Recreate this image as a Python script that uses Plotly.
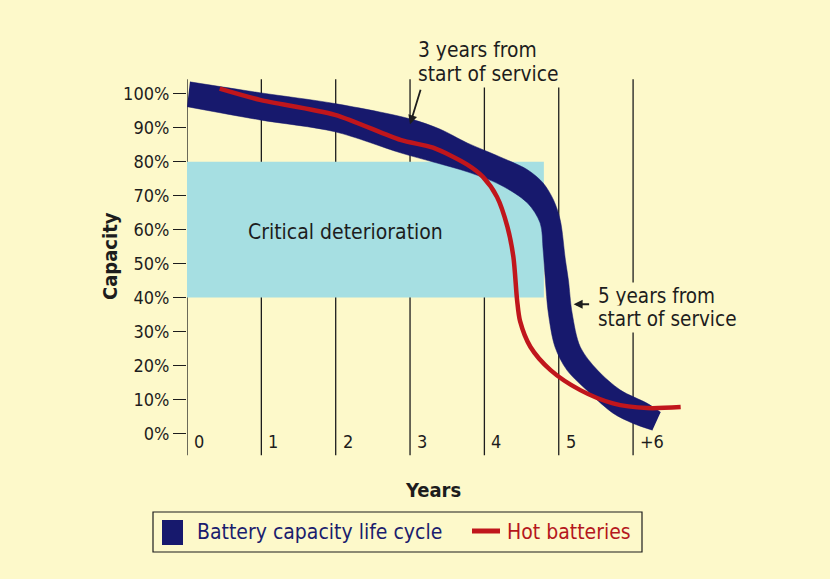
import plotly.graph_objects as go

# ---------------- data ----------------
year_ticks = [0, 1, 2, 3, 4, 5, 6]
year_labels = ["0", "1", "2", "3", "4", "5", "+6"]
pct_ticks = [0, 10, 20, 30, 40, 50, 60, 70, 80, 90, 100]
pct_labels = ["0%", "10%", "20%", "30%", "40%", "50%", "60%", "70%", "80%", "90%", "100%"]
series_names = ["Battery capacity life cycle", "Hot batteries"]

# Battery capacity life cycle band: upper and lower edges (years, % capacity)
band_upper_years = [0.04, 0.98, 1.99, 3.00, 3.40, 3.77, 4.21, 4.58, 4.79, 4.93, 5.02, 5.09, 5.13, 5.18, 5.29, 5.52, 5.83, 6.19, 6.37]
band_upper_pct = [103.5, 100.3, 97.1, 92.6, 89.6, 85.5, 81.4, 77.6, 73.7, 68.7, 62.8, 51.0, 45.1, 35.4, 25.4, 18.6, 12.7, 8.8, 6.2]
band_lower_years = [0.00, 0.98, 1.99, 2.87, 3.31, 3.77, 4.21, 4.58, 4.75, 4.79, 4.82, 4.86, 4.95, 5.11, 5.42, 5.73, 6.00, 6.26]
band_lower_pct = [96.2, 92.3, 88.8, 82.6, 79.9, 77.0, 73.2, 67.8, 61.9, 54.0, 45.1, 35.4, 25.4, 18.6, 11.8, 5.9, 2.9, 0.9]

# Hot batteries curve
hot_years = [0.44, 0.98, 1.99, 2.87, 3.31, 3.77, 3.98, 4.17, 4.31, 4.39, 4.44, 4.48, 4.62, 4.89, 5.29, 5.73, 6.19, 6.64]
hot_pct = [101.5, 98.2, 93.8, 86.4, 84.1, 79.1, 75.5, 69.6, 60.8, 51.9, 39.2, 33.0, 25.4, 18.6, 12.7, 8.8, 7.4, 7.7]

# Critical deterioration zone
critical_low, critical_high = 40, 80
critical_end_year = 4.8

# ---------------- style ----------------
BG = "#fdf9ca"
NAVY = "#17196d"
NAVY_TXT = "#1b1d6e"
RED = "#c0161c"
RED_TXT = "#b5171c"
CYAN = "#a6dfe2"
INK = "#1d1d1d"
FONT = "Liberation Sans Narrow, DejaVu Sans Condensed, Arial Narrow, Roboto, sans-serif"

W, H = 830, 579
ML, MR, MT, MB = 187, 130, 53, 122
PW, PH = W - ML - MR, H - MT - MB

def px(x):
    return (x - ML) / PW

def py(y):
    return (H - MB - y) / PH

Y_MIN, Y_MAX = -7, 112
LINE_BOTTOM, LINE_TOP = -6.5, 104.3

fig = go.Figure()

# band: upper edge, then lower edge filled to it
fig.add_trace(go.Scatter(
    x=band_upper_years, y=band_upper_pct, mode="lines",
    line=dict(color=NAVY, width=0.5, shape="spline", smoothing=0.9),
    name=series_names[0], hoverinfo="skip", showlegend=False,
))
fig.add_trace(go.Scatter(
    x=band_lower_years, y=band_lower_pct, mode="lines", fill="tonexty",
    fillcolor=NAVY, line=dict(color=NAVY, width=0.5, shape="spline", smoothing=0.9),
    name=series_names[0], hoverinfo="skip", showlegend=False,
))
fig.add_trace(go.Scatter(
    x=hot_years, y=hot_pct, mode="lines",
    line=dict(color=RED, width=4.5, shape="spline", smoothing=0.8),
    name=series_names[1], hoverinfo="skip", showlegend=False,
))

shapes = []
for yr in year_ticks:
    shapes.append(dict(type="line", xref="x", yref="y", x0=yr, x1=yr,
                       y0=LINE_BOTTOM, y1=LINE_TOP, line=dict(color=INK, width=1.3),
                       layer="below"))
shapes.append(dict(type="rect", xref="x", yref="y", x0=year_ticks[0], x1=critical_end_year,
                   y0=critical_low, y1=critical_high, fillcolor=CYAN,
                   line=dict(width=0), layer="below"))

# manual legend (box, swatch, line)
shapes += [
    dict(type="rect", xref="paper", yref="paper", x0=px(153), x1=px(642), y0=py(552), y1=py(512),
         line=dict(color=INK, width=1.2), fillcolor="rgba(0,0,0,0)", layer="above"),
    dict(type="rect", xref="paper", yref="paper", x0=px(162), x1=px(183), y0=py(545), y1=py(520),
         line=dict(width=0), fillcolor=NAVY, layer="above"),
    dict(type="line", xref="paper", yref="paper", x0=px(472), x1=px(500), y0=py(531), y1=py(531),
         line=dict(color=RED, width=5), layer="above"),
]

annotations = []
for yr, lab in zip(year_ticks, year_labels):
    annotations.append(dict(x=yr, y=-2.4, xref="x", yref="y", text=lab, showarrow=False,
                            xanchor="left", yanchor="middle", xshift=5,
                            font=dict(family=FONT, size=18, color=INK)))

def txt(x, y, text, size=19, color=INK, xanchor="left", **kw):
    d = dict(x=px(x), y=py(y), xref="paper", yref="paper", text=text, showarrow=False,
             xanchor=xanchor, yanchor="middle", font=dict(family=FONT, size=size, color=color))
    d.update(kw)
    return d

annotations += [
    txt(345, 232, "Critical deterioration", size=21, xanchor="center"),
    txt(433, 490, "<b>Years</b>", size=20, xanchor="center"),
    txt(110, 256, "<b>Capacity</b>", size=20, xanchor="center", textangle=-90),
    txt(416, 50, "3 years from", size=20.8, bgcolor=BG, borderpad=1),
    txt(416, 74, "start of service", size=20.8, bgcolor=BG, borderpad=1),
    txt(596, 296, "5 years from", size=20.5, bgcolor=BG, borderpad=1),
    txt(596, 319, "start of service", size=20.5, bgcolor=BG, borderpad=1),
    txt(195, 532, series_names[0], size=21, color=NAVY_TXT),
    txt(505, 532, series_names[1], size=21, color=RED_TXT),
    dict(x=3.0, y=91.0, xref="x", yref="y", text="", showarrow=True, arrowhead=2,
         arrowsize=1, arrowwidth=1.8, arrowcolor=INK, ax=11, ay=-36),
    dict(x=5.2, y=38.0, xref="x", yref="y", text="", showarrow=True, arrowhead=2,
         arrowsize=1, arrowwidth=1.8, arrowcolor=INK, ax=17, ay=0),
]

fig.update_layout(
    width=W, height=H,
    margin=dict(l=ML, r=MR, t=MT, b=MB),
    paper_bgcolor=BG, plot_bgcolor=BG,
    font=dict(family=FONT, color=INK),
    shapes=shapes, annotations=annotations,
    showlegend=False,
    xaxis=dict(range=[0, 6.9], showgrid=False, zeroline=False, showticklabels=False,
               ticks="", showline=False, fixedrange=True),
    yaxis=dict(range=[Y_MIN, Y_MAX], tickvals=pct_ticks, ticktext=pct_labels,
               ticks="outside", ticklen=13, tickwidth=1.3, tickcolor=INK,
               showgrid=False, zeroline=False, showline=False,
               tickfont=dict(family=FONT, size=18, color=INK), fixedrange=True),
)

fig.write_html("out.html", config={"displayModeBar": False},
               post_script="document.body.style.margin='0';")
